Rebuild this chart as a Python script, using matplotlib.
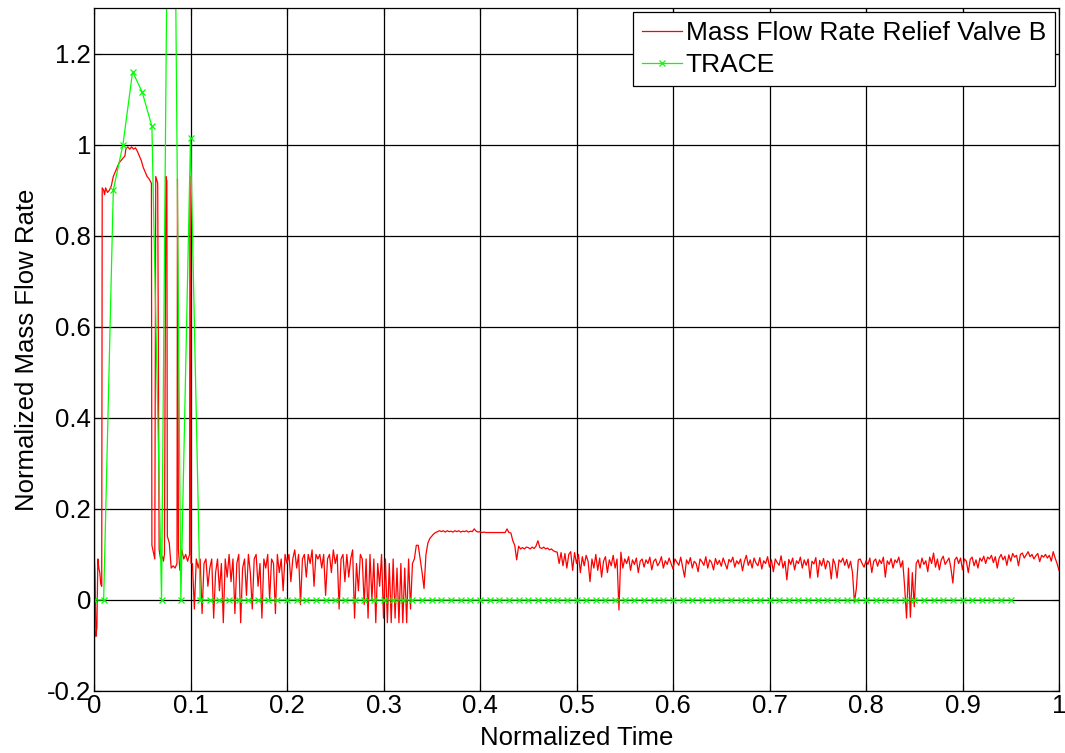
import numpy as np
import matplotlib
matplotlib.use("Agg")
import matplotlib.pyplot as plt

plt.rcParams["font.family"] = ["Liberation Sans", "DejaVu Sans"]

# Relief valve B, start-up transient (time, value)
valve_early_t = [
    0.000, 0.001, 0.002, 0.003, 0.004, 0.005, 0.006, 0.007, 0.008, 0.0085,
    0.010, 0.011, 0.012, 0.014, 0.016, 0.018, 0.020, 0.022, 0.024, 0.026,
    0.028, 0.030, 0.032, 0.033, 0.035, 0.037, 0.039, 0.041, 0.043, 0.045,
    0.047, 0.049, 0.051, 0.053, 0.055, 0.057, 0.0595, 0.060, 0.062, 0.063,
    0.064, 0.066, 0.0675, 0.069, 0.071, 0.072, 0.073, 0.0745, 0.0755, 0.076,
    0.078, 0.080, 0.082, 0.084, 0.086, 0.0865, 0.0875, 0.089, 0.091, 0.093,
    0.095, 0.097, 0.099, 0.0995, 0.1005,
]
valve_early_y = [
    0.10, 0.06, -0.08, -0.06, 0.09, 0.07, 0.06, 0.035, 0.03, 0.905,
    0.90, 0.89, 0.905, 0.895, 0.90, 0.91, 0.93, 0.94, 0.95, 0.96,
    0.965, 0.97, 0.975, 0.99, 0.995, 0.99, 0.995, 0.99, 0.993, 0.985,
    0.975, 0.965, 0.95, 0.94, 0.93, 0.925, 0.915, 0.12, 0.10, 0.09,
    0.93, 0.915, 0.11, 0.09, 0.095, 0.085, 0.10, 0.93, 0.92, 0.14,
    0.125, 0.07, 0.075, 0.07, 0.08, 0.925, 0.11, 0.065, 0.11, 0.09,
    0.10, 0.085, 0.10, 0.93, 0.08,
]

# Relief valve B after 0.1, sampled every 0.002 from t = 0.102
valve_noisy_a = [
    0.08, -0.02, 0.09, 0.07, 0.09, -0.03, 0.08, 0.09, 0.03, 0.07,
    0.09, -0.04, 0.06, 0.09, 0.02, 0.08, -0.05, 0.09, 0.05, 0.10,
    0.04, 0.09, -0.03, 0.08, 0.10, -0.05, 0.07, 0.09, 0.01, 0.10,
    0.06, -0.02, 0.09, 0.10, 0.03, 0.08, -0.04, 0.09, 0.07, 0.10,
    0.00, 0.09, 0.08, -0.03, 0.10, 0.06, 0.09, 0.02, 0.10, 0.08,
    0.10, 0.04, 0.09, 0.11, 0.07, 0.10, -0.01, 0.09, 0.10, 0.05,
    0.10, 0.08, 0.11, 0.03, 0.10, 0.09, 0.10, 0.07, 0.10, 0.01,
    0.09, 0.10, 0.06, 0.11, 0.08, 0.10, -0.02, 0.09, 0.10, 0.04,
    0.10, 0.05, 0.09, 0.11, -0.04, 0.08, 0.02, 0.10, 0.09, -0.01,
    0.09, -0.04, 0.10, 0.00, 0.09, -0.05, 0.08, 0.03, 0.10, -0.04,
    0.09, -0.05, 0.08, -0.05, 0.09, -0.04, 0.07, -0.05, 0.08, -0.05,
    0.07, -0.05, 0.09, -0.02, 0.08, 0.09, 0.12,
]
valve_plateau = [
    0.12, 0.09, 0.06, 0.025, 0.10, 0.125, 0.135, 0.14, 0.145, 0.148,
    0.150, 0.152, 0.150, 0.152, 0.149, 0.152, 0.150, 0.151, 0.149, 0.152,
    0.150, 0.152, 0.149, 0.151, 0.150, 0.152, 0.149, 0.151, 0.150, 0.156,
    0.151, 0.149, 0.150, 0.148, 0.149, 0.148, 0.148, 0.148, 0.148, 0.148,
    0.148, 0.148, 0.148, 0.148, 0.148, 0.148, 0.156, 0.148, 0.147, 0.130,
    0.120, 0.088, 0.118, 0.112, 0.115, 0.112, 0.116,
]
valve_noisy_c = [
    0.115, 0.112, 0.116, 0.113, 0.118, 0.130, 0.115, 0.113, 0.116, 0.112,
    0.114, 0.110, 0.112, 0.108, 0.106, 0.105, 0.080, 0.104, 0.075, 0.102,
    0.070, 0.100, 0.106, 0.065, 0.104, 0.080, 0.100, 0.060, 0.095, 0.075,
    0.098, 0.085, 0.040, 0.090, 0.070, 0.100, 0.065, 0.092, 0.050, 0.085,
    0.095, 0.060, 0.088, 0.075, 0.098, 0.070, 0.090, -0.022, 0.105, 0.070,
    0.090, 0.080, 0.095, 0.065, 0.088, 0.078, 0.092, 0.060, 0.085, 0.090,
    0.072, 0.088, 0.080, 0.094, 0.066, 0.085, 0.090, 0.075, 0.082, 0.095,
    0.070, 0.086, 0.078, 0.092, 0.080, 0.068, 0.090, 0.083, 0.076, 0.094,
    0.072, 0.050, 0.088, 0.079, 0.093, 0.070, 0.085, 0.080, 0.062, 0.090,
    0.084, 0.076, 0.095, 0.070, 0.088, 0.082, 0.066, 0.091, 0.078, 0.087,
    0.074, 0.092, 0.080, 0.068, 0.089, 0.083, 0.094, 0.072, 0.086, 0.079,
    0.090, 0.064, 0.085, 0.098, 0.076, 0.088, 0.070, 0.092, 0.081, 0.075,
    0.093, 0.068, 0.086, 0.080, 0.095, 0.072, 0.088, 0.062, 0.090, 0.082,
    0.076, 0.097, 0.070, 0.085, 0.044, 0.089, 0.078, 0.092, 0.066, 0.086,
    0.080, 0.094, 0.070, 0.088, 0.076, 0.090, 0.048, 0.085, 0.079, 0.093,
    0.050, 0.087, 0.075, 0.091, 0.068, 0.086, 0.082, 0.046, 0.090, 0.078,
    0.048, 0.088, 0.083, 0.092, 0.076, 0.089, 0.070, 0.085, 0.060, -0.005,
    0.025, 0.088, 0.090, 0.080, 0.072, 0.086, 0.078, 0.092, 0.060, 0.085,
    0.090, 0.074, 0.088, 0.080, 0.094, 0.050, 0.086, 0.078, 0.091, 0.070,
    0.088, 0.082, 0.094, 0.072, 0.086, 0.030, -0.040, 0.070, -0.038, 0.060,
    -0.015, 0.080, 0.088, 0.070, 0.092, 0.078, 0.086, 0.062, 0.094, 0.080,
    0.103, 0.072, 0.090, 0.066, 0.088, 0.096, 0.078, 0.085, 0.092, 0.070,
    0.037, 0.088, 0.094, 0.080, 0.092, 0.066, 0.090, 0.085, 0.060, 0.089,
    0.094, 0.075, 0.088, 0.070, 0.092, 0.085, 0.096, 0.080, 0.094, 0.090,
    0.098, 0.082, 0.095, 0.070, 0.092, 0.100, 0.088, 0.096, 0.076, 0.099,
    0.085, 0.102, 0.094, 0.098, 0.075, 0.100, 0.103, 0.092, 0.099, 0.106,
    0.095, 0.100, 0.090, 0.097, 0.102, 0.084, 0.098, 0.094, 0.100, 0.092,
    0.098, 0.085, 0.106, 0.092, 0.080, 0.065,
]
VALVE_SAMPLE_START = 0.102
VALVE_SAMPLE_STEP = 0.002

# TRACE result, one value every 0.01 from 0 to 0.95
trace_values = [0.0, 0.0, 0.90, 1.0, 1.16, 1.115, 1.04, 0.0, 2.5, 0.0, 1.015] + [0.0] * 85
TRACE_STEP = 0.01

x_ticks = [0, 0.1, 0.2, 0.3, 0.4, 0.5, 0.6, 0.7, 0.8, 0.9, 1]
x_tick_labels = ["0", "0.1", "0.2", "0.3", "0.4", "0.5", "0.6", "0.7", "0.8", "0.9", "1"]
y_ticks = [-0.2, 0, 0.2, 0.4, 0.6, 0.8, 1, 1.2]
y_tick_labels = ["-0.2", "0", "0.2", "0.4", "0.6", "0.8", "1", "1.2"]

FONT_SIZE = 18.5

noisy = valve_noisy_a + valve_plateau + valve_noisy_c
noisy_t = VALVE_SAMPLE_START + VALVE_SAMPLE_STEP * np.arange(len(noisy))
valve_t = np.concatenate([valve_early_t, noisy_t])
valve_y = np.concatenate([valve_early_y, noisy])
trace_t = TRACE_STEP * np.arange(len(trace_values))

fig = plt.figure(figsize=(10.65, 7.53), dpi=100)
ax = fig.add_axes([94 / 1065, 62 / 753, 965 / 1065, 683 / 753])

ax.plot(valve_t, valve_y, color="#ff0000", linewidth=0.9, label="Mass Flow Rate Relief Valve B")
ax.plot(trace_t, trace_values, color="#00ff00", linewidth=0.9, marker="x",
        markersize=5, markeredgewidth=0.9, label="TRACE")

ax.set_xlim(0, 1)
ax.set_ylim(-0.2, 1.3)
ax.set_xticks(x_ticks)
ax.set_xticklabels(x_tick_labels)
ax.set_yticks(y_ticks)
ax.set_yticklabels(y_tick_labels)
ax.tick_params(direction="in", top=True, right=True, labelsize=FONT_SIZE,
               length=5, width=0.8, pad=2)
ax.grid(True, color="black", linestyle="-", linewidth=0.9)
for spine in ax.spines.values():
    spine.set_linewidth(0.9)

ax.set_xlabel("Normalized Time", fontsize=FONT_SIZE, labelpad=6)
ax.set_ylabel("Normalized Mass Flow Rate", fontsize=FONT_SIZE, labelpad=6)

leg = ax.legend(loc="upper right", fontsize=19, fancybox=False, framealpha=1,
                edgecolor="black", handlelength=1.5, handletextpad=0.15,
                borderpad=0.35, labelspacing=0.3, borderaxespad=0.15)
leg.get_frame().set_linewidth(0.9)

fig.savefig("out.png", dpi=100)
